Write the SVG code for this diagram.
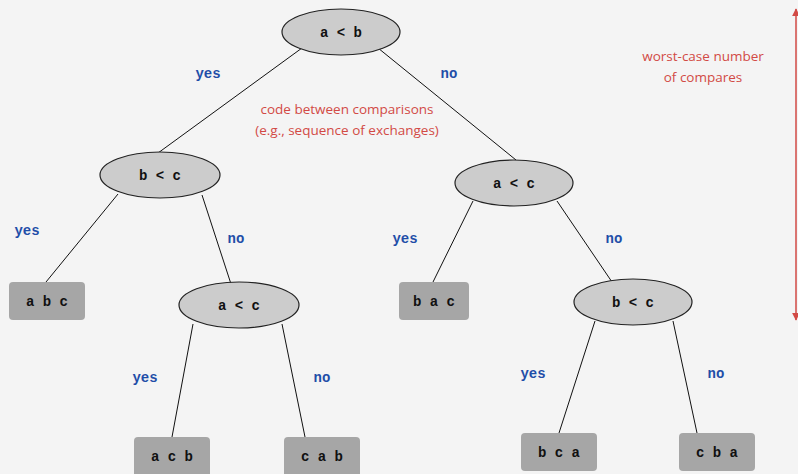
<svg xmlns="http://www.w3.org/2000/svg" width="798" height="474" viewBox="0 0 798 474">
  <style>
    .cmp { fill: #cccccc; stroke: #222; stroke-width: 1.2; }
    .leaf { fill: #a6a6a6; }
    .nt { font-family: 'Liberation Mono', 'DejaVu Sans Mono', 'Courier New', monospace; font-weight: bold; font-size: 14px; fill: #111; text-anchor: middle; }
    .yn { font-family: 'Liberation Mono', 'DejaVu Sans Mono', 'Courier New', monospace; font-weight: bold; font-size: 14px; fill: #1f4ea8; text-anchor: middle; }
    .note { font-family: 'Open Sans', 'DejaVu Sans', sans-serif; font-size: 13.5px; fill: #d24a45; text-anchor: middle; }
    .edge { stroke: #111; stroke-width: 1; fill: none; }
  </style>
  <defs>
    <marker id="tip" viewBox="0 0 10 10" refX="9" refY="5" markerWidth="8" markerHeight="8" orient="auto-start-reverse" markerUnits="userSpaceOnUse">
      <path d="M0,0 L10,5 L0,10 z" fill="#d24a45"/>
    </marker>
  </defs>
  <rect width="798" height="474" fill="#f4f4f4"/>

  <g id="edges">
    <line class="edge" x1="302" y1="48" x2="158" y2="153"/>
    <line class="edge" x1="378" y1="48" x2="516" y2="160"/>
    <line class="edge" x1="118" y1="194" x2="46" y2="282"/>
    <line class="edge" x1="202" y1="195" x2="231" y2="284"/>
    <line class="edge" x1="473" y1="201" x2="433" y2="282"/>
    <line class="edge" x1="557" y1="201" x2="612" y2="282"/>
    <line class="edge" x1="193" y1="324" x2="172" y2="437"/>
    <line class="edge" x1="282" y1="324" x2="305" y2="437"/>
    <line class="edge" x1="595" y1="321" x2="559" y2="433"/>
    <line class="edge" x1="673" y1="321" x2="697" y2="433"/>
  </g>

  <g id="edge-labels">
    <text class="yn" x="208" y="78">yes</text>
    <text class="yn" x="449" y="78">no</text>
    <text class="yn" x="27" y="235">yes</text>
    <text class="yn" x="236" y="243">no</text>
    <text class="yn" x="405" y="243">yes</text>
    <text class="yn" x="614" y="243">no</text>
    <text class="yn" x="145" y="382">yes</text>
    <text class="yn" x="322" y="382">no</text>
    <text class="yn" x="533" y="378">yes</text>
    <text class="yn" x="716" y="378">no</text>
  </g>

  <g id="n-ab">
    <ellipse class="cmp" cx="341" cy="32" rx="59" ry="23"/>
    <text class="nt" x="341" y="37">a &lt; b</text>
  </g>
  <g id="n-bc-left">
    <ellipse class="cmp" cx="160" cy="175" rx="60" ry="23"/>
    <text class="nt" x="160" y="180">b &lt; c</text>
  </g>
  <g id="n-ac-right">
    <ellipse class="cmp" cx="514" cy="183" rx="59" ry="23"/>
    <text class="nt" x="514" y="188">a &lt; c</text>
  </g>
  <g id="n-ac-left">
    <ellipse class="cmp" cx="239" cy="305" rx="60" ry="23"/>
    <text class="nt" x="239" y="310">a &lt; c</text>
  </g>
  <g id="n-bc-right">
    <ellipse class="cmp" cx="633" cy="302" rx="59" ry="23"/>
    <text class="nt" x="633" y="307">b &lt; c</text>
  </g>

  <g id="leaf-abc">
    <rect class="leaf" x="9" y="282" width="76" height="38" rx="4"/>
    <text class="nt" x="47" y="306">a b c</text>
  </g>
  <g id="leaf-bac">
    <rect class="leaf" x="399" y="282" width="70" height="38" rx="4"/>
    <text class="nt" x="434" y="306">b a c</text>
  </g>
  <g id="leaf-acb">
    <rect class="leaf" x="134" y="437" width="76" height="40" rx="4"/>
    <text class="nt" x="172" y="461">a c b</text>
  </g>
  <g id="leaf-cab">
    <rect class="leaf" x="284" y="437" width="76" height="40" rx="4"/>
    <text class="nt" x="322" y="461">c a b</text>
  </g>
  <g id="leaf-bca">
    <rect class="leaf" x="521" y="433" width="76" height="38" rx="4"/>
    <text class="nt" x="559" y="457">b c a</text>
  </g>
  <g id="leaf-cba">
    <rect class="leaf" x="679" y="433" width="76" height="38" rx="4"/>
    <text class="nt" x="717" y="457">c b a</text>
  </g>

  <g id="notes">
    <text class="note" x="347" y="114">code between comparisons</text>
    <text class="note" x="347" y="135">(e.g., sequence of exchanges)</text>
    <text class="note" x="703" y="61">worst-case number</text>
    <text class="note" x="703" y="82">of compares</text>
    <line x1="796" y1="9" x2="796" y2="320" stroke="#d24a45" stroke-width="1.5" marker-start="url(#tip)" marker-end="url(#tip)"/>
  </g>
</svg>
